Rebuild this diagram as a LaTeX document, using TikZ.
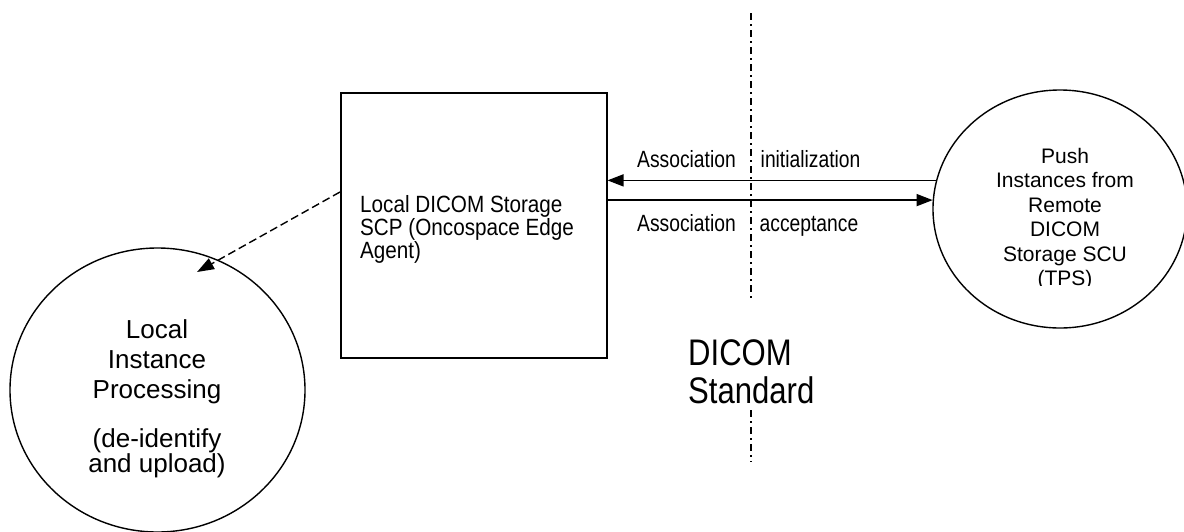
\documentclass[tikz,border=0pt]{standalone}
\usepackage{fontspec}
\setmainfont{Liberation Sans}
\usetikzlibrary{arrows.meta,shapes.geometric}
\tikzset{
  lw/.style={line width=1.5pt},
  agent/.style={draw, lw, inner sep=0pt, minimum width=266pt, minimum height=265pt, anchor=north west},
  peer/.style={draw, line width=1.4pt, ellipse, inner sep=0pt},
  msg/.style={lw, -{Triangle[length=16pt,width=12pt]}},
  handoff/.style={line width=1.4pt, dash pattern=on 8pt off 4pt, -{Triangle[length=17pt,width=12pt]}},
  border/.style={line width=1.5pt, dash pattern=on 7pt off 4pt on 2pt off 4pt},
  txt/.style={inner sep=0pt}
}
\begin{document}
\begin{tikzpicture}[x=1pt, y=-1pt]
  \useasboundingbox (0,0) rectangle (1184,531);

  % storage SCP box
  \node[agent] (scp) at (340,92) {};
  \node[txt, anchor=north west, align=left,
        font=\fontsize{23.5}{21.7}\selectfont\addfontfeature{FakeStretch=0.88}]
    (scptxt) at (360,195) {Local DICOM Storage\\SCP (Oncospace Edge\\Agent)};

  % remote SCU
  \node[peer, minimum width=254pt, minimum height=238pt] (scu) at (1060,209) {};
  \begin{scope}
    \clip (960,100) rectangle (1170,285.5);
    \node[txt, anchor=north, align=center, font=\fontsize{21}{24.4}\selectfont]
      (scutxt) at (1065,148) {Push\\Instances from\\Remote\\DICOM\\Storage SCU\\(TPS)};
  \end{scope}

  % local processing
  \node[peer, minimum width=295pt, minimum height=284pt] (proc) at (157.5,390) {};
  \node[txt, anchor=north, align=center, font=\fontsize{26}{30}\selectfont]
    (proctxt) at (157,319) {Local\\Instance\\Processing};
  \node[txt, anchor=north, align=center, font=\fontsize{26}{21}\selectfont]
    (procnote) at (157,428) {(de-identify\\and upload)};

  % DICOM standard boundary
  \coordinate (b1) at (751,13);
  \coordinate (b2) at (751,298);
  \coordinate (b3) at (751,410);
  \coordinate (b4) at (751,462);
  \draw[border] (b1) -- (b2);
  \draw[border] (b3) -- (b4);
  \node[txt, anchor=north west, align=left,
        font=\fontsize{37}{38}\selectfont\addfontfeature{FakeStretch=0.84}]
    (std) at (688,339) {DICOM\\Standard};

  % association messages
  \draw[msg] (scu.167.3) -- (scu.167.3 -| scp.east);
  \draw[msg] (scp.east |- scu.176.8) -- (scu.176.8);
  \node[txt, anchor=base west,
        font=\fontsize{23.5}{21}\selectfont\addfontfeature{FakeStretch=0.82}]
    (init) at (637,167) {Association\hspace{25pt}initialization};
  \node[txt, anchor=base west,
        font=\fontsize{23.5}{21}\selectfont\addfontfeature{FakeStretch=0.82}]
    (acc) at (637,231) {Association\hspace{24pt}acceptance};

  % hand-off to local processing
  \coordinate (tip) at (197,272);
  \draw[handoff] (scp.west |- 0,192) -- (tip);
\end{tikzpicture}
\end{document}
